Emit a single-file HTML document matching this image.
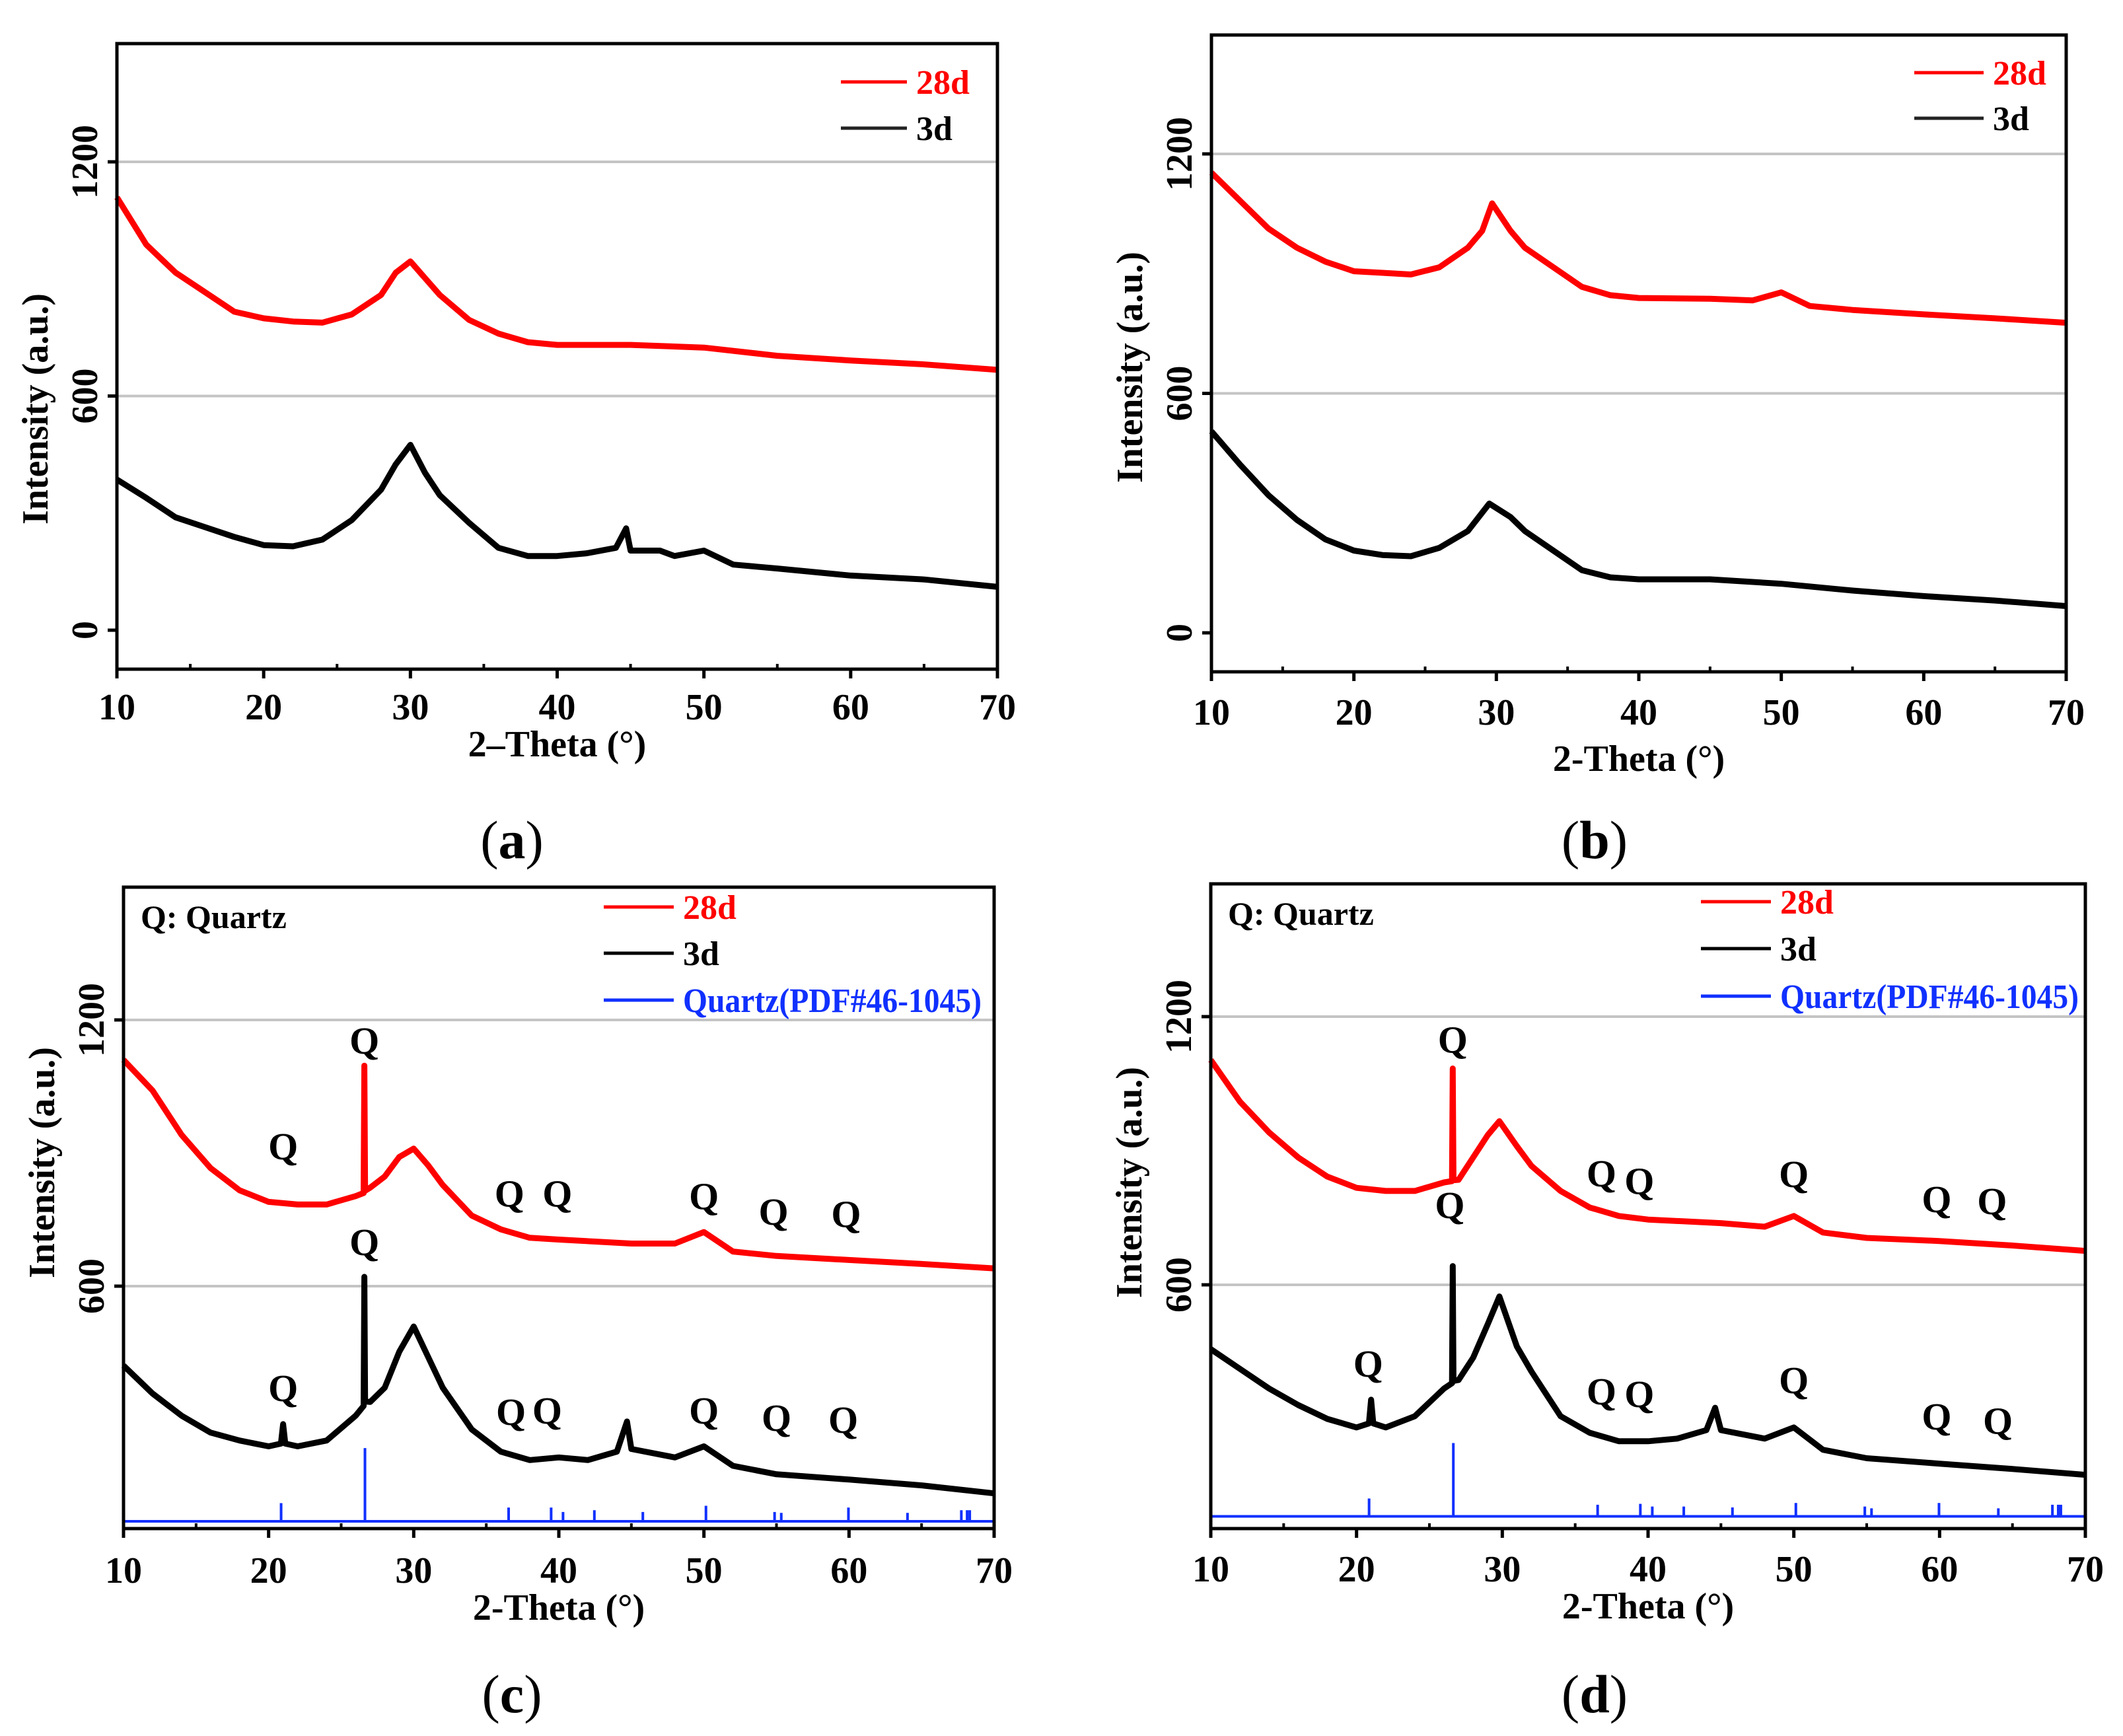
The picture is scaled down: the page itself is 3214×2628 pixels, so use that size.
<!DOCTYPE html>
<html><head><meta charset="utf-8"><style>
html,body{margin:0;padding:0;background:#fff;}
svg{display:block;font-family:"Liberation Serif",serif;}
</style></head><body>
<svg id="fig" width="3214" height="2628" viewBox="0 0 3214 2628" xmlns="http://www.w3.org/2000/svg"></svg>
<script>
// ---------- data (2-theta in degrees, intensity in a.u.) ----------
const aX28 = [10,12,14,16,18,20,22,24,26,28,29,30,31,32,34,36,38,40,45,50,55,60,65,70];
const aY28 = [1109,988,916,866,816,799,791,788,809,859,916,945,902,859,795,760,738,731,731,724,703,691,681,667];
const aX3 = [10,12,14,16,18,20,22,24,26,28,29,30,31,32,34,36,38,40,42,44,44.7,45,47,48,50,52,55,60,65,70];
const aY3 = [386,339,289,264,239,218,215,232,282,360,425,475,403,346,275,211,190,190,197,211,261,204,204,190,204,168,158,140,130,111];

const bX28 = [10,12,14,16,18,20,22,24,26,28,29,29.7,31,32,34,36,38,40,45,48,50,52,55,60,65,70];
const bY28 = [1153,1083,1013,965,930,906,902,898,916,965,1007,1076,1007,965,916,867,846,839,837,833,853,819,809,798,788,777];
const bX3 = [10,12,14,16,18,20,22,24,26,28,29.5,31,32,34,36,38,40,45,50,55,60,65,70];
const bY3 = [505,422,345,283,234,206,195,192,213,255,324,290,255,206,157,139,134,134,123,106,92,81,67];

const cX28 = [10,12,14,16,18,20,22,24,26,26.55,26.6,26.65,27,28,29,30,31,32,34,36,38,40,45,48,50,52,55,60,65,70];
const cY28 = [1110,1041,941,866,816,790,784,784,803,810,1097,815,822,847,891,910,872,828,759,728,709,705,696,696,722,678,668,659,650,640];
const cX3 = [10,12,14,16,18,20,20.85,21,21.15,22,24,26,26.55,26.6,26.65,27,28,29,30,31,32,34,36,38,40,42,44,44.7,45,48,50,52,55,60,65,70];
const cY3 = [421,358,308,270,252,239,245,289,245,239,252,308,330,621,340,339,371,452,509,440,371,277,227,208,214,208,227,295,233,214,239,195,176,164,151,133];

const dX28 = [10,12,14,16,18,20,22,24,26,26.55,26.6,26.65,27,28,29,29.8,31,32,34,36,38,40,45,48,50,52,55,60,65,70];
const dY28 = [1103,1010,941,885,842,817,810,810,829,832,1084,834,835,885,935,966,910,866,810,773,754,746,738,730,754,717,705,698,688,676];
const dX3 = [10,12,14,16,18,20,20.85,21,21.15,22,24,26,26.55,26.6,26.65,27,28,29,29.8,31,32,34,36,38,40,42,44,44.6,45,48,50,52,55,60,65,70];
const dY3 = [456,412,368,331,300,281,290,343,290,281,306,368,380,642,385,387,437,512,574,462,406,306,269,250,250,256,275,325,275,256,281,231,212,200,188,175];

// Quartz PDF#46-1045 reference sticks
const stickX = [20.86,26.64,36.54,39.47,40.29,42.45,45.79,50.14,54.87,55.33,59.96,64.03,67.74,68.14,68.32];
const stickTopC = [111,235,101,101,91,95,91,105,91,89,101,89,95,95,95];
const stickTopD = [122,246,108,110,104,104,102,112,104,100,112,100,108,108,108];

// Q label positions [2theta, intensity]
const qC28x = [21,26.6,36.6,39.9,50,54.8,59.8];
const qC28y = [916,1154,809,809,803,768,763];
const qC3x = [21,26.6,36.7,39.2,50,55,59.6];
const qC3y = [371,700,317,320,320,304,299];
const qD28x = [26.6,36.8,39.4,50,59.8,63.6];
const qD28y = [1149,850,833,848,792,788];
const qD3x = [20.8,26.4,36.8,39.4,50,59.8,64];
const qD3y = [424,779,362,356,387,306,296];

const xTicks = [10,20,30,40,50,60,70];
const yTicks = [0,600,1200];

// ---------- drawing ----------
const NS = "http://www.w3.org/2000/svg";
const svg = document.getElementById('fig');
function mk(tag, attrs, parent){
  const e = document.createElementNS(NS, tag);
  for (const k in attrs) e.setAttribute(k, attrs[k]);
  (parent||svg).appendChild(e);
  return e;
}

function panel(p){
  const g = mk('g', {});
  
  
  const sx = v => p.L + (v - 10) / 60 * (p.R - p.L);
  const sy = v => p.y0 + (v - p.v0) * (p.y1 - p.y0) / (p.v1 - p.v0);

  [600,1200].forEach(v=>{
    const l = mk('line',{x1:p.L,x2:p.R,y1:sy(v),y2:sy(v),stroke:'#c4c4c4','stroke-width':4},g);
    
    
  });

  if (p.sticks){
    const base = mk('line',{x1:p.L,x2:p.R,y1:sy(p.stickBase),y2:sy(p.stickBase),stroke:'#1030ff','stroke-width':4},g);
    
    
    stickX.forEach((x,i)=>{
      const s = mk('line',{x1:sx(x),x2:sx(x),y1:sy(p.stickBase),y2:sy(p.sticks[i]),stroke:'#1030ff','stroke-width':4},g);
      
      
    });
  }

  function series(xs, ys, color, name){
    const d = xs.map((x,i)=>(i?'L':'M') + sx(x).toFixed(1) + ' ' + sy(ys[i]).toFixed(1)).join(' ');
    const path = mk('path',{d:d,fill:'none',stroke:color,'stroke-width':9,'stroke-linejoin':'round'},g);
    
    
  }
  series(p.x28, p.y28, '#ff0000', 'series-28d');
  series(p.x3, p.y3, '#000000', 'series-3d');

  if (p.qx){
    p.qx.forEach((arrX, k)=>{
      arrX.forEach((x,i)=>{
        const t = mk('text',{x:sx(x),y:sy(p.qy[k][i])+20,'font-size':58,'text-anchor':'middle','font-weight':'bold'},g);
        t.textContent = 'Q';
        
        
      });
    });
    const qt = mk('text',{x:p.L+26,y:p.T+62,'font-size':50,'font-weight':'bold','xml:space':'preserve'},g);
    qt.textContent = 'Q:  Quartz';
    
    
  }

  const fr = mk('rect',{x:p.L,y:p.T,width:p.R-p.L,height:p.B-p.T,fill:'none',stroke:'#000','stroke-width':5},g);
  
  

  xTicks.forEach(v=>{
    mk('line',{x1:sx(v),x2:sx(v),y1:p.B,y2:p.B+14,stroke:'#000','stroke-width':5},g);
    const t = mk('text',{x:sx(v),y:p.B+p.xtl,'font-size':56,'font-weight':'bold','text-anchor':'middle'},g);
    t.textContent = v;
    
    
  });
  [15,25,35,45,55,65].forEach(v=>{
    mk('line',{x1:sx(v),x2:sx(v),y1:p.B,y2:p.B-8,stroke:'#000','stroke-width':4},g);
  });
  yTicks.forEach(v=>{
    const y = sy(v);
    if (y < p.T || y > p.B) return;
    mk('line',{x1:p.L-14,x2:p.L,y1:y,y2:y,stroke:'#000','stroke-width':5},g);
    const t = mk('text',{x:0,y:0,'font-size':56,'font-weight':'bold','text-anchor':'middle',
      transform:`translate(${p.L-30},${y}) rotate(-90)`},g);
    t.textContent = v;
    
    
  });

  const xt = mk('text',{x:(p.L+p.R)/2,y:p.B+p.xtt,'font-size':56,'font-weight':'bold','text-anchor':'middle'},g);
  xt.textContent = p.id==='a' ? '2\u2013Theta (°)' : '2-Theta (°)';
  
  
  const yt = mk('text',{x:0,y:0,'font-size':56,'font-weight':'bold','text-anchor':'middle',
    transform:`translate(${p.L-105},${p.ytc}) rotate(-90)`},g);
  yt.textContent = 'Intensity (a.u.)';
  
  

  p.leg.forEach((it,i)=>{
    const y = p.legY[i];
    mk('line',{x1:p.legX0,x2:p.legX1,y1:y,y2:y,stroke:it[1],'stroke-width':5},g);
    const attrs = {x:p.legX1+14,y:y+18,'font-size':52,'font-weight':'bold',fill:it[2]};
    if (it[3]) { attrs.textLength = it[3]; attrs.lengthAdjust = 'spacingAndGlyphs'; }
    const t = mk('text',attrs,g);
    t.textContent = it[0];
    
    
  });

  const cap = mk('text',{x:p.capX,y:p.capY+28,'font-size':82,'text-anchor':'middle'},g);
  cap.innerHTML = '(<tspan font-weight="bold">' + p.id + '</tspan>)';
  
  
}

const leg2 = [['28d','#ff0000','#ff0000'],['3d','#222','#000']];
const leg3 = [['28d','#ff0000','#ff0000'],['3d','#000','#000'],['Quartz(PDF#46-1045)','#1030ff','#1030ff',452]];

panel({id:'a',L:177,R:1510,T:66,B:1013,v0:0,y0:954,v1:1200,y1:245,
  x28:aX28,y28:aY28,x3:aX3,y3:aY3,xtl:76,xtt:132,ytc:619,
  leg:leg2,legX0:1273,legX1:1373,legY:[124,194],capX:775,capY:1271});
panel({id:'b',L:1834,R:3128,T:53,B:1017,v0:0,y0:958,v1:1200,y1:233,
  x28:bX28,y28:bY28,x3:bX3,y3:bY3,xtl:80,xtt:150,ytc:556,
  leg:leg2,legX0:2898,legX1:3003,legY:[110,179],capX:2414,capY:1271});
panel({id:'c',L:187,R:1505,T:1343,B:2314,v0:600,y0:1947,v1:1200,y1:1544,
  x28:cX28,y28:cY28,x3:cX3,y3:cY3,xtl:82,xtt:138,ytc:1760,
  sticks:stickTopC,stickBase:70,qx:[qC28x,qC3x],qy:[qC28y,qC3y],
  leg:leg3,legX0:914,legX1:1020,legY:[1373,1443,1514],capX:775,capY:2564});
panel({id:'d',L:1833,R:3157,T:1338,B:2314,v0:600,y0:1945,v1:1200,y1:1539,
  x28:dX28,y28:dY28,x3:dX3,y3:dY3,xtl:80,xtt:136,ytc:1790,
  sticks:stickTopD,stickBase:82,qx:[qD28x,qD3x],qy:[qD28y,qD3y],
  leg:leg3,legX0:2575,legX1:2681,legY:[1365,1436,1508],capX:2414,capY:2564});
</script>
</body></html>
